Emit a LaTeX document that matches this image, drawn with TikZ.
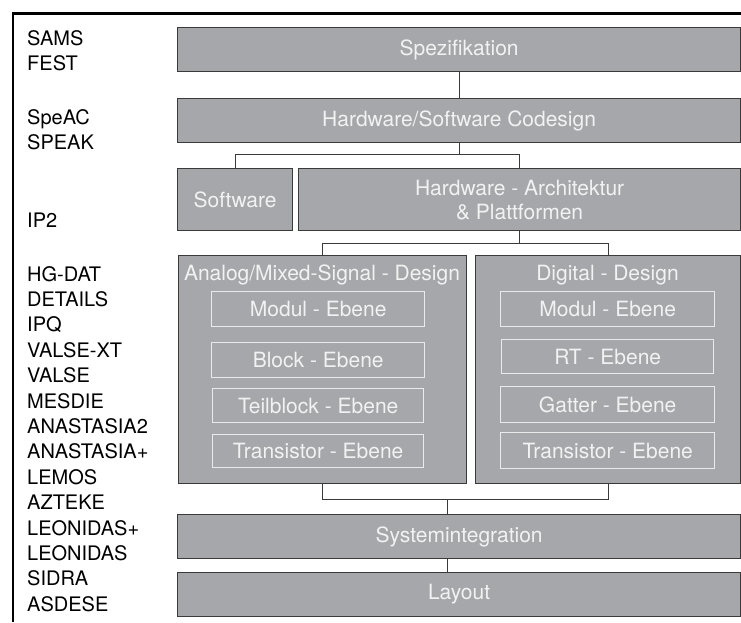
\documentclass[tikz,border=0pt]{standalone}
\usepackage{fontspec}
\setmainfont{TeX Gyre Heros}
\usepackage{tikz}

\definecolor{boxgray}{HTML}{A6A7AA}
\definecolor{edgegray}{HTML}{3A3A3A}
\definecolor{txtgray}{HTML}{F2F2F2}

\begin{document}
\begin{tikzpicture}[x=1pt,y=-1pt,
	box/.style={draw=edgegray,line width=1.2pt,fill=boxgray,text=txtgray,inner sep=0pt,anchor=north west,align=center,font=\fontsize{21}{24}\selectfont},
	level/.style={draw=txtgray!90!boxgray,line width=1.4pt,text=txtgray,inner sep=0pt,anchor=north west,font=\fontsize{21}{24}\selectfont},
	title/.style={text=txtgray,inner sep=0pt,anchor=base,font=\fontsize{21}{24}\selectfont},
	lbl/.style={inner sep=0pt,anchor=base west,font=\fontsize{20}{24}\selectfont},
	link/.style={draw=edgegray,line width=0.9pt}]
			\useasboundingbox (0,0) rectangle (741,622);
			\draw [line width=2.2pt] (13,622) -- (13,13.5) -- (741,13.5);
			% tool names
			\foreach \y/\t [count=\i] in {45/SAMS,70.5/FEST,124/SpeAC,149.5/SPEAK,227/IP2}
				\node [lbl] (top\i) at (27,\y) {\t};
			\foreach \t [count=\i from 0] in {HG-DAT,DETAILS,IPQ,VALSE-XT,VALSE,MESDIE,ANASTASIA2,ANASTASIA+,LEMOS,AZTEKE,LEONIDAS+,LEONIDAS,SIDRA,ASDESE}
				\node [lbl] (tool\i) at (27,281+25.4*\i) {\t};
			% design flow
			\node [box,minimum width=563pt,minimum height=44pt] (spez) at (177,27) {Spezifikation};
			\node [box,minimum width=563pt,minimum height=44pt] (codesign) at (177,98) {Hardware/Software Codesign};
			\node [box,minimum width=115pt,minimum height=62pt] (sw) at (177,168) {Software};
			\node [box,minimum width=442pt,minimum height=62pt] (hw) at (298,168) {Hardware - Architektur\\\& Plattformen};
			\node [box,minimum width=288pt,minimum height=228pt] (ad) at (178,255) {};
			\node [box,minimum width=265pt,minimum height=228pt] (dd) at (475,255) {};
			\node [title] (adtitle) at (322,280.5) {Analog/Mixed-Signal - Design};
			\node [title] (ddtitle) at (607.5,280.5) {Digital - Design};
			\node [level,minimum width=213pt,minimum height=35pt] (amod) at (211,291) {Modul - Ebene};
			\node [level,minimum width=213pt,minimum height=35pt] (ablk) at (211,342) {Block - Ebene};
			\node [level,minimum width=211pt,minimum height=34pt] (atb) at (212,388) {Teilblock - Ebene};
			\node [level,minimum width=211pt,minimum height=33pt] (atr) at (212,434) {Transistor - Ebene};
			\node [level,minimum width=214pt,minimum height=35pt] (dmod) at (500,291) {Modul - Ebene};
			\node [level,minimum width=212pt,minimum height=34pt] (drt) at (501,339) {RT - Ebene};
			\node [level,minimum width=214pt,minimum height=36pt] (dgat) at (500,386) {Gatter - Ebene};
			\node [level,minimum width=214pt,minimum height=36pt] (dtr) at (500,432) {Transistor - Ebene};
			\node [box,minimum width=563pt,minimum height=44pt] (sys) at (177,514) {Systemintegration};
			\node [box,minimum width=563pt,minimum height=44pt] (layout) at (177,572) {Layout};
			% connectors
			\coordinate (hs) at (0,154);
			\coordinate (hb) at (0,243);
			\coordinate (jn) at (447,499);
			\draw [link] (spez.south) -- (codesign.north);
			\draw [link] (codesign.south) -- (codesign.south |- hs);
			\draw [link] (sw.north) -- (sw.north |- hs) -- (hw.north |- hs) -- (hw.north);
			\draw [link] (hw.south) -- (hw.south |- hb);
			\draw [link] (ad.north) -- (ad.north |- hb) -- (dd.north |- hb) -- (dd.north);
			\draw [link] (ad.south) -- (ad.south |- jn) -- (dd.south |- jn) -- (dd.south);
			\draw [link] (jn) -- (jn |- sys.north);
			\draw [link] (sys.south -| jn) -- (layout.north -| jn);
			\end{tikzpicture}
\end{document}
